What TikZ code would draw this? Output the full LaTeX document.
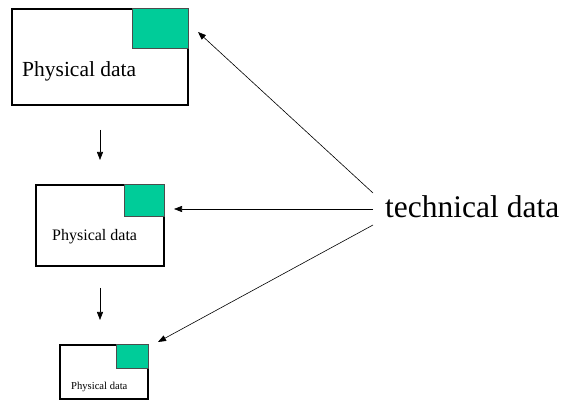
\documentclass[tikz,border=0pt]{standalone}
\usepackage{fontspec}
\setmainfont{Liberation Serif}
\usetikzlibrary{arrows.meta,calc}
\definecolor{tabgreen}{RGB}{0,204,153}
\tikzset{
  databox/.style={draw=black, line width=2pt, fill=white, inner sep=0pt, minimum width=#1},
  tab/.style={draw=black!70, line width=0.6pt, fill=tabgreen, inner sep=0pt},
  link/.style={line width=0.6pt, -{Triangle[length=8pt,width=6pt]}},
  lbl/.style={inner sep=0pt, anchor=base west},
}
\begin{document}
\begin{tikzpicture}[x=1pt,y=-1pt]
\useasboundingbox (0,0) rectangle (566,401);

% first (largest) record
\node[databox=176pt, minimum height=95.5pt] (b1) at (100,57.25) {};
\node[tab, minimum width=56pt, minimum height=39.5pt, anchor=north east] (g1) at (b1.north east) {};
\node[lbl, font=\fontsize{21.5}{24}\selectfont] (p1) at (22,77) {Physical data};

% second record
\node[databox=128.3pt, minimum height=80.7pt] (b2) at (99.85,225.35) {};
\node[tab, minimum width=40pt, minimum height=32pt, anchor=north east] (g2) at (b2.north east) {};
\node[lbl, font=\fontsize{16}{18}\selectfont] (p2) at (52,241) {Physical data};

% third (smallest) record
\node[databox=88pt, minimum height=54pt] (b3) at (104,372) {};
\node[tab, minimum width=32pt, minimum height=24pt, anchor=north east] (g3) at (b3.north east) {};
\node[lbl, font=\fontsize{10.6}{12}\selectfont] (p3) at (71,390) {Physical data};

% label on the right
\node[lbl, font=\fontsize{31.5}{36}\selectfont] (tech) at (385,218) {technical data};

% arrow start points beside the label, arrow tips beside the records
\coordinate (s1) at ($(tech.base west)+(-12,-25)$);
\coordinate (s2) at ($(tech.base west)+(-12,-9)$);
\coordinate (s3) at ($(tech.base west)+(-12,7)$);
\coordinate (t1) at ($(b1.north east)+(9,23.5)$);
\coordinate (t2) at ($(b2.east)+(9,-16.35)$);
\coordinate (t3) at ($(b3.north east)+(9,-2)$);

\draw[link] (s1) -- (t1);
\draw[link] (s2) -- (t2);
\draw[link] (s3) -- (t3);

% downward steps between records
\coordinate (d1a) at (100,130);
\coordinate (d1b) at (100,160);
\coordinate (d2a) at (100,288);
\coordinate (d2b) at (100,320);
\draw[link] (d1a) -- (d1b);
\draw[link] (d2a) -- (d2b);
\end{tikzpicture}
\end{document}
